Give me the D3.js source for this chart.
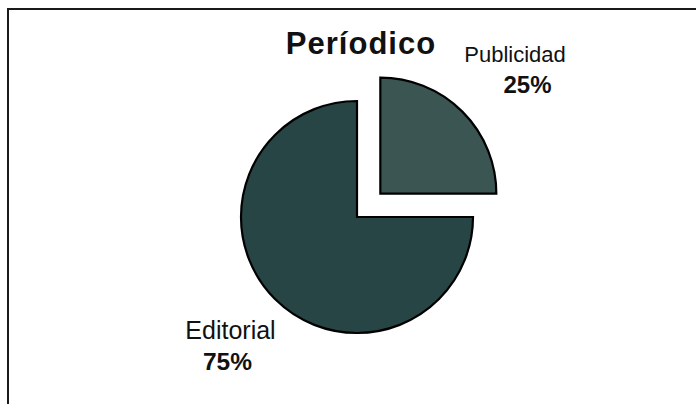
<!DOCTYPE html>
<html>
<head>
<meta charset="utf-8">
<script src="https://cdn.jsdelivr.net/npm/d3@7"></script>
<style>
  html, body { margin: 0; padding: 0; background: #fff; }
  svg { display: block; }
</style>
</head>
<body>
<svg id="chart" width="696" height="404"></svg>
<script>
const title = "Períodico";
const categories = ["Publicidad", "Editorial"];
const values = [25, 75];
const percentLabels = ["25%", "75%"];
const colors = ["#3a5552", "#274545"];

const svg = d3.select("#chart");

// frame (only top and left visible in the reference)
svg.append("rect")
  .attr("x", 8).attr("y", 9)
  .attr("width", 720).attr("height", 420)
  .attr("fill", "none").attr("stroke", "#1a1a1a").attr("stroke-width", 2);

const cx = 357, cy = 217, r = 116, explode = 33;

const pie = d3.pie().sort(null).value(d => d.value);
const arcs = pie(categories.map((c, i) => ({ name: c, value: values[i], color: colors[i], pct: percentLabels[i] })));
const arc = d3.arc().innerRadius(0).outerRadius(r);

const g = svg.append("g").attr("transform", `translate(${cx},${cy})`);
g.selectAll("path").data(arcs).enter().append("path")
  .attr("d", arc)
  .attr("fill", d => d.data.color)
  .attr("stroke", "#000")
  .attr("stroke-width", 2.2)
  .attr("stroke-linejoin", "miter")
  .attr("transform", d => {
    if (d.index !== 0) return null;
    const a = (d.startAngle + d.endAngle) / 2;
    return `translate(${explode * Math.sin(a)},${-explode * Math.cos(a)})`;
  });

// title
svg.append("text")
  .attr("x", 361).attr("y", 54)
  .attr("text-anchor", "middle")
  .attr("font-family", "Liberation Sans, Arial, sans-serif")
  .attr("font-weight", "bold")
  .attr("font-size", 31)
  .attr("letter-spacing", 1)
  .attr("fill", "#111")
  .text(title);

// labels
const labelPos = [
  { x: 515, y1: 62, s1: 22, x2: 527.5, y2: 93, s2: 24 },
  { x: 230.5, y1: 339, s1: 25, x2: 227.5, y2: 370, s2: 24.5 }
];
arcs.forEach((d, i) => {
  const p = labelPos[i];
  svg.append("text")
    .attr("x", p.x).attr("y", p.y1)
    .attr("text-anchor", "middle")
    .attr("font-family", "Liberation Sans, Arial, sans-serif")
    .attr("font-size", p.s1)
    .attr("fill", "#111")
    .text(d.data.name);
  svg.append("text")
    .attr("x", p.x2).attr("y", p.y2)
    .attr("text-anchor", "middle")
    .attr("font-family", "Liberation Sans, Arial, sans-serif")
    .attr("font-weight", "bold")
    .attr("font-size", p.s2)
    .attr("fill", "#111")
    .text(d.data.pct);
});
</script>
</body>
</html>
